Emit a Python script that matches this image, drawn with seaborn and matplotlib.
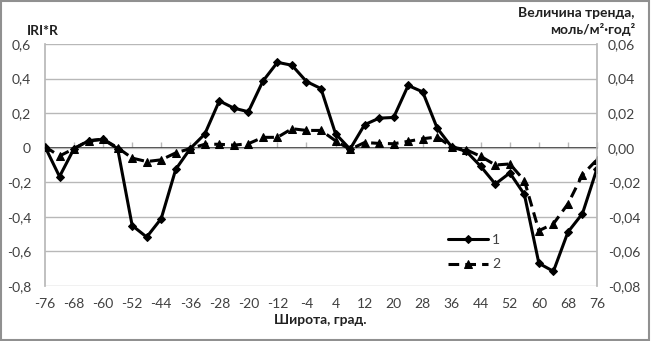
import matplotlib
matplotlib.use("Agg")
import matplotlib.pyplot as plt
from matplotlib.ticker import FuncFormatter
from matplotlib.patches import Rectangle
import seaborn as sns
import numpy as np

sns.set_theme(style="white")
plt.rcParams['font.family'] = ['Lato', 'DejaVu Sans']

latitude = [-76, -72, -68, -64, -60, -56, -52, -48, -44, -40, -36, -32, -28, -24, -20,
            -16, -12, -8, -4, 0, 4, 8, 12, 16, 20, 24, 28, 32, 36, 40, 44, 48, 52, 56,
            60, 64, 68, 72, 76]
series1 = [0.006, -0.167, -0.005, 0.04, 0.048, -0.005, -0.45, -0.517, -0.41, -0.125,
           -0.005, 0.079, 0.271, 0.229, 0.208, 0.385, 0.494, 0.477, 0.383, 0.342,
           0.081, -0.008, 0.133, 0.171, 0.175, 0.36, 0.323, 0.113, 0.004, -0.021,
           -0.108, -0.21, -0.146, -0.27, -0.669, -0.715, -0.488, -0.381, -0.121]
series2 = [0.0006, -0.0048, -0.0005, 0.004, 0.005, 0.0, -0.006, -0.008, -0.007, -0.003,
           -0.0005, 0.002, 0.002, 0.0015, 0.0023, 0.006, 0.006, 0.011, 0.010, 0.010,
           0.004, -0.001, 0.003, 0.0025, 0.0023, 0.0037, 0.0052, 0.0062, 0.0004, -0.0012,
           -0.005, -0.010, -0.0094, -0.019, -0.048, -0.044, -0.0325, -0.0156, -0.0069]
xtick_labels = [-76, -68, -60, -52, -44, -36, -28, -20, -12, -4, 4, 12, 20, 28, 36, 44, 52, 60, 68, 76]
series_names = ["1", "2"]

fig = plt.figure(figsize=(6.51, 3.41), dpi=100)
ax = fig.add_axes([45/651, 1-286/341, (597-45)/651, (286-44)/341])
ax2 = ax.twinx()

tick_color = '#404040'
grid_color = '#b8b8b8'

sns.lineplot(x=latitude, y=series1, ax=ax, color='black', lw=2.2, marker='D',
             markersize=4, markeredgecolor='black', label=series_names[0], legend=False)
sns.lineplot(x=latitude, y=series2, ax=ax2, color='black', lw=2.2, linestyle=(0, (3.5, 2)),
             marker='^', markersize=6, markeredgecolor='black', label=series_names[1], legend=False)

ax.set_xlim(-76, 76)
ax.set_ylim(-0.8, 0.6)
ax2.set_ylim(-0.08, 0.06)

ax.set_yticks(np.arange(-0.8, 0.61, 0.2))
ax2.set_yticks(np.arange(-0.08, 0.061, 0.02))

def left_fmt(v, pos):
    if abs(v) < 1e-9:
        return "0"
    return f"{v:.1f}".replace('.', ',')

def right_fmt(v, pos):
    if abs(v) < 1e-9:
        return "0,00"
    return f"{v:.2f}".replace('.', ',')

ax.yaxis.set_major_formatter(FuncFormatter(left_fmt))
ax2.yaxis.set_major_formatter(FuncFormatter(right_fmt))

ax.set_xticks(xtick_labels)
ax.set_xticklabels([str(v) for v in xtick_labels])

ax.grid(axis='y', color=grid_color, lw=1)
ax.set_axisbelow(True)

for a in (ax, ax2):
    for s in a.spines.values():
        s.set_visible(False)
ax.spines['left'].set_visible(True)
ax.spines['left'].set_color(grid_color)
ax2.spines['right'].set_visible(True)
ax2.spines['right'].set_color(grid_color)

ax.tick_params(axis='x', length=0, pad=9, labelsize=10, labelcolor=tick_color)
ax.tick_params(axis='y', length=0, pad=10, labelsize=10, labelcolor=tick_color)
ax2.tick_params(axis='y', length=0, pad=8, labelsize=10, labelcolor=tick_color)

# horizontal category axis at y = 0 with tick marks
sec = ax.secondary_xaxis(0.8 / 1.4)
sec.set_xticks(xtick_labels)
sec.set_xticklabels([])
sec.tick_params(axis='x', direction='out', length=4, color=grid_color, width=1)
sec.spines['bottom'].set_color('#909090')
sec.spines['bottom'].set_linewidth(1.2)

ax.set_xlabel("")
ax.set_ylabel("")
ax2.set_ylabel("")

fig.text(320/651, 1-320/341, "Широта, град.", ha='center', va='center',
         fontsize=10, fontweight='bold', color='#202020')
fig.text(27/651, 1-31/341, "IRI*R", ha='left', va='center',
         fontsize=10, fontweight='bold', color='#202020')
fig.text(635/651, 1-13/341, "Величина тренда,", ha='right', va='center',
         fontsize=10, fontweight='bold', color='#202020')
fig.text(635/651, 1-30/341, "моль/м²·год²", ha='right', va='center',
         fontsize=10, fontweight='bold', color='#202020')

h1, l1 = ax.get_legend_handles_labels()
h2, l2 = ax2.get_legend_handles_labels()
leg = ax.legend(h1 + h2, l1 + l2, loc='center left', bbox_to_anchor=(390/552, 0.14),
                frameon=False, fontsize=10, handlelength=2.9, labelspacing=0.9,
                handletextpad=0.3)
for t in leg.get_texts():
    t.set_color(tick_color)

fig.patches.append(Rectangle((0.002, 0.003), 0.995, 0.993, transform=fig.transFigure,
                             fill=False, edgecolor='#909090', lw=1.5))

fig.savefig("out.png", dpi=100)
